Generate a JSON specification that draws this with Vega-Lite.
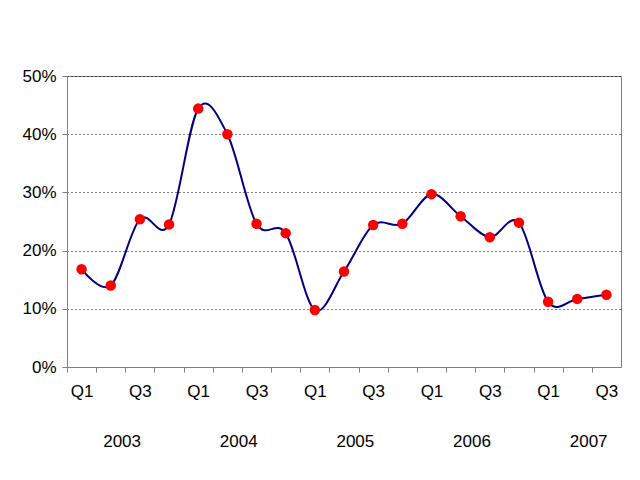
{
  "$schema": "https://vega.github.io/schema/vega-lite/v6.json",
  "width": 554,
  "height": 291,
  "autosize": "none",
  "padding": {"left": 67, "top": 76, "right": 19, "bottom": 113},
  "background": "white",
  "config": {
    "view": {"stroke": "#808080", "strokeWidth": 1},
    "font": "Liberation Sans"
  },
  "datasets": {
    "main": [
      {"period": "2003 Q1", "value": 0.168},
      {"period": "2003 Q2", "value": 0.140},
      {"period": "2003 Q3", "value": 0.254},
      {"period": "2003 Q4", "value": 0.245},
      {"period": "2004 Q1", "value": 0.444},
      {"period": "2004 Q2", "value": 0.400},
      {"period": "2004 Q3", "value": 0.246},
      {"period": "2004 Q4", "value": 0.230},
      {"period": "2005 Q1", "value": 0.098},
      {"period": "2005 Q2", "value": 0.164},
      {"period": "2005 Q3", "value": 0.244},
      {"period": "2005 Q4", "value": 0.246},
      {"period": "2006 Q1", "value": 0.297},
      {"period": "2006 Q2", "value": 0.259},
      {"period": "2006 Q3", "value": 0.223},
      {"period": "2006 Q4", "value": 0.248},
      {"period": "2007 Q1", "value": 0.112},
      {"period": "2007 Q2", "value": 0.117},
      {"period": "2007 Q3", "value": 0.124}
    ],
    "years": [
      {"period": "2003 Q2", "year": "2003"},
      {"period": "2004 Q2", "year": "2004"},
      {"period": "2005 Q2", "year": "2005"},
      {"period": "2006 Q2", "year": "2006"},
      {"period": "2007 Q2", "year": "2007"}
    ]
  },
  "layer": [
    {
      "data": {"name": "main"},
      "mark": {"type": "line", "interpolate": "cardinal", "color": "#000080", "strokeWidth": 2},
      "encoding": {
        "x": {
          "field": "period", "type": "ordinal", "sort": null,
          "scale": {"type": "band", "paddingInner": 0, "paddingOuter": 0},
          "axis": {
            "title": null,
            "labelAngle": 0,
            "tickOffset": -14.6,
            "labelOffset": 14.6,
            "labelExpr": "(substring(datum.value, 5) == 'Q1' || substring(datum.value, 5) == 'Q3') ? substring(datum.value, 5) : ''",
            "labelFont": "Liberation Sans",
            "labelFontSize": 17,
            "labelColor": "black",
            "labelPadding": 11,
            "tickSize": 5,
            "tickColor": "#808080",
            "domainColor": "#808080",
            "grid": false
          }
        },
        "y": {
          "field": "value", "type": "quantitative",
          "scale": {"domain": [0, 0.5], "nice": false},
          "axis": {
            "title": null,
            "format": ".0%",
            "values": [0, 0.1, 0.2, 0.3, 0.4, 0.5],
            "labelFont": "Liberation Sans",
            "labelFontSize": 17,
            "labelColor": "black",
            "labelPadding": 6,
            "tickSize": 5,
            "tickColor": "#808080",
            "domainColor": "#808080",
            "grid": true,
            "gridColor": "black",
            "gridDash": [1, 3],
            "gridWidth": 1
          }
        }
      }
    },
    {
      "data": {"name": "main"},
      "mark": {"type": "circle", "color": "#ff0000", "opacity": 1, "size": 110},
      "encoding": {
        "x": {"field": "period", "type": "ordinal", "sort": null},
        "y": {"field": "value", "type": "quantitative"}
      }
    },
    {
      "data": {"name": "years"},
      "mark": {"type": "text", "fontSize": 17, "font": "Liberation Sans", "color": "black", "baseline": "middle", "align": "center"},
      "encoding": {
        "x": {"field": "period", "type": "ordinal", "sort": null, "bandPosition": 0.89},
        "y": {"datum": -0.129, "type": "quantitative"},
        "text": {"field": "year"}
      }
    }
  ]
}
